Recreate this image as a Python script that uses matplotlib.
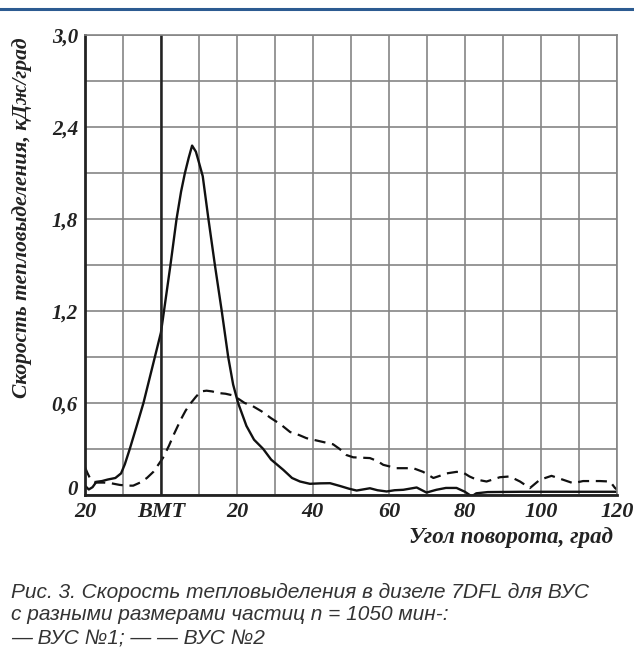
import numpy as np
from matplotlib import pyplot as plt

# ВУС №1 (сплошная)
angle_1 = [-20, -19, -18, -17, -15.5, -14, -12, -10.5, -9.5, -8.2, -6.5, -4.6, -3, -1.6,
           0, 0.8, 2.5, 4.1, 5.3, 6.3, 7.3, 8.2, 9.2, 10, 11, 12.5, 14.2, 16, 17.7, 19,
           20.3, 22.5, 24.5, 26.9, 29, 32.2, 34.5, 36.6, 39.2, 42, 44.5, 47.1, 49.5, 51.5,
           55, 57, 59.4, 61.5, 63.8, 67.3, 69.9, 72.5, 75, 77.8, 80, 81.8, 83, 86, 95,
           105, 115, 120]
heat_1 = [0.06, 0.035, 0.05, 0.085, 0.09, 0.1, 0.11, 0.14, 0.2, 0.3, 0.44, 0.6, 0.76, 0.9,
          1.06, 1.2, 1.5, 1.8, 1.98, 2.1, 2.2, 2.28, 2.24, 2.17, 2.08, 1.8, 1.5, 1.2, 0.9, 0.72,
          0.6, 0.45, 0.36, 0.3, 0.23, 0.163, 0.11, 0.087, 0.072, 0.075, 0.076, 0.058, 0.04, 0.028,
          0.043, 0.03, 0.022, 0.03, 0.033, 0.048, 0.015, 0.033, 0.045, 0.045, 0.02, -0.01, 0.01,
          0.018, 0.02, 0.02, 0.02, 0.02]

# ВУС №2 (штриховая)
angle_2 = [-20, -19.3, -18.5, -17, -15, -13, -10.9, -9, -7.3, -5.5, -3.7, -2, -0.6, 0.5,
           2.1, 3.5, 5.2, 6.5, 7.9, 9.2, 10.5, 12, 13.5, 15, 17, 18.8, 20.5, 22, 24.1, 26.5,
           29, 31.5, 34, 36.4, 38.3, 41.8, 45.3, 47, 48.8, 50.6, 55, 57, 58.5, 62, 66.4, 69,
           71.7, 73.4, 75.2, 77.8, 79.5, 81.2, 83, 85.7, 89.2, 91.8, 94.5, 97.1, 99.7, 102.8,
           105.9, 108.5, 111.1, 115.5, 118.2, 119.5, 120]
heat_2 = [0.18, 0.14, 0.1, 0.08, 0.08, 0.075, 0.065, 0.06, 0.06, 0.08, 0.11, 0.15, 0.2, 0.24,
          0.32, 0.4, 0.49, 0.55, 0.6, 0.64, 0.675, 0.68, 0.675, 0.665, 0.66, 0.65, 0.625, 0.6,
          0.58, 0.545, 0.5, 0.46, 0.41, 0.39, 0.37, 0.35, 0.33, 0.3, 0.26, 0.245, 0.24, 0.22,
          0.196, 0.174, 0.174, 0.15, 0.11, 0.124, 0.14, 0.15, 0.146, 0.12, 0.1, 0.087, 0.115,
          0.12, 0.087, 0.044, 0.098, 0.124, 0.098, 0.076, 0.09, 0.09, 0.087, 0.045, 0.035]

x_ticks = [-20, 0, 20, 40, 60, 80, 100, 120]
x_labels = ['20', 'ВМТ', '20', '40', '60', '80', '100', '120']
y_ticks = [0, 0.6, 1.2, 1.8, 2.4, 3.0]
y_labels = ['0', '0,6', '1,2', '1,8', '2,4', '3,0']

serif = dict(family='Liberation Serif', weight='bold', style='italic', color='#222222')

fig = plt.figure(figsize=(6.34, 6.66), dpi=100)
fig.add_artist(plt.Line2D([0, 1], [0.987, 0.987], color='#2c5b91', lw=2.2))

ax = fig.add_axes([0.134, 0.257, 0.839, 0.690])
ax.plot(angle_2, heat_2, color='#111111', lw=1.6, dashes=(5, 3))
ax.plot(angle_1, heat_1, color='#111111', lw=1.7)

ax.set_xlim(-20, 120)
ax.set_ylim(0, 3.0)
ax.set_xticks(x_ticks)
ax.set_xticklabels(x_labels, fontdict=serif, fontsize=16)
ax.set_yticks(y_ticks)
ax.set_yticklabels(y_labels, fontdict=serif, fontsize=15)
ax.get_yticklabels()[0].set_verticalalignment('baseline')
ax.set_xticks(np.arange(-20, 121, 10), minor=True)
ax.set_yticks(np.arange(0, 3.01, 0.3), minor=True)
ax.tick_params(which='both', length=0)
ax.tick_params(axis='x', pad=5)
ax.tick_params(axis='y', pad=5)
ax.grid(which='both', color='#858585', lw=1.2)
ax.axvline(0, color='#222222', lw=1.8)

for side in ['top', 'right']:
    ax.spines[side].set_color('#858585')
    ax.spines[side].set_linewidth(1.2)
for side in ['left', 'bottom']:
    ax.spines[side].set_color('#222222')
    ax.spines[side].set_linewidth(2)

fig.text(0.967, 1 - 537 / 666, 'Угол поворота, град', ha='right', va='center',
         fontsize=16.5, **serif)
fig.text(0.034, 1 - 218 / 666, 'Скорость тепловыделения, кДж/град', rotation=90,
         ha='center', va='center', fontsize=15.5, **serif)

cap = dict(family='Liberation Sans', style='italic', color='#333333', fontsize=15)
fig.text(0.018, 1 - 592 / 666, 'Рис. 3. Скорость тепловыделения в дизеле 7DFL для ВУС',
         va='center', **cap)
fig.text(0.018, 1 - 615 / 666, 'с разными размерами частиц n = 1050 мин-:', va='center', **cap)
fig.text(0.018, 1 - 638 / 666, '— ВУС №1; — — ВУС №2', va='center', **cap)

fig.savefig('out.png', dpi=100)
